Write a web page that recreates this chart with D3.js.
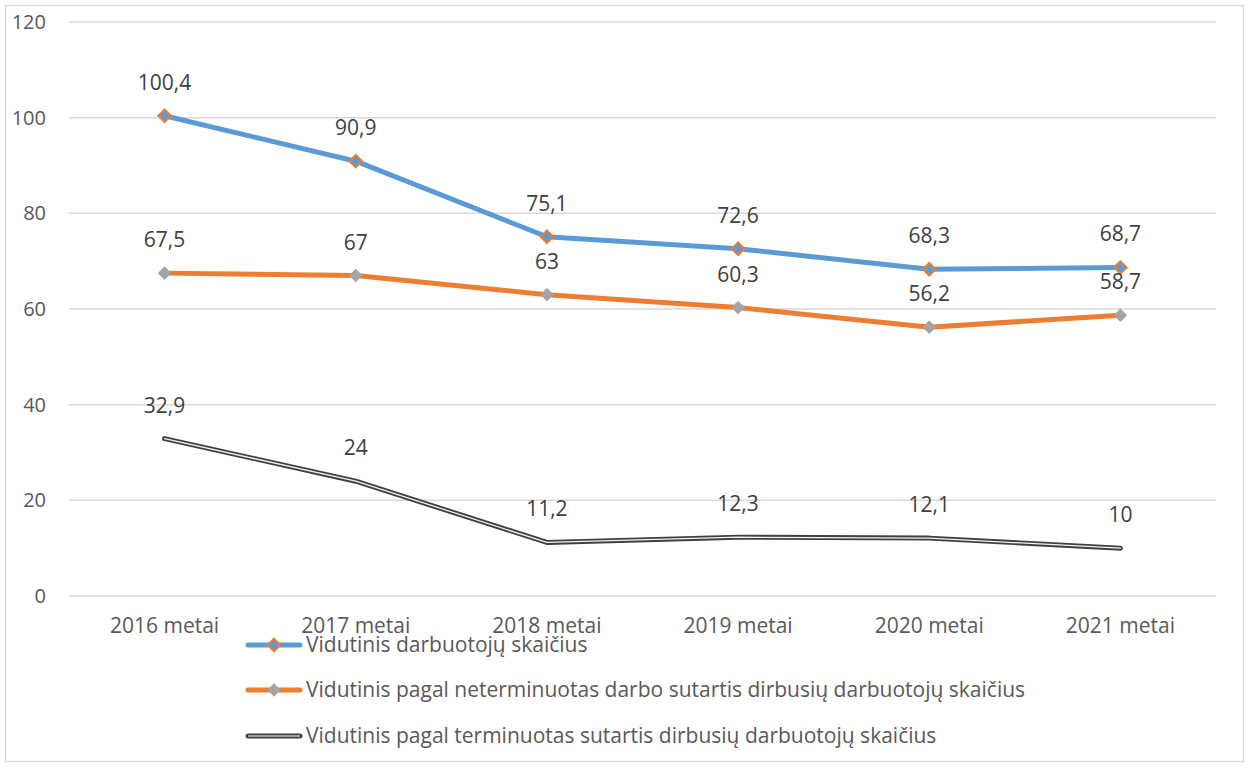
<!DOCTYPE html>
<html>
<head>
<meta charset="utf-8">
<script src="https://cdn.jsdelivr.net/npm/d3@7"></script>
<style>
  body { margin: 0; background: #fff; }
  svg text { font-family: "Open Sans", sans-serif; }
</style>
</head>
<body>
<div id="chart"></div>
<script>
'use strict';
var categories = ['2016 metai', '2017 metai', '2018 metai', '2019 metai', '2020 metai', '2021 metai'];
var totalValues = [100.4, 90.9, 75.1, 72.6, 68.3, 68.7];
var permanentValues = [67.5, 67, 63, 60.3, 56.2, 58.7];
var fixedTermValues = [32.9, 24, 11.2, 12.3, 12.1, 10];
var yTicks = [0, 20, 40, 60, 80, 100, 120];
var seriesNames = [
    'Vidutinis darbuotojų skaičius',
    'Vidutinis pagal neterminuotas darbo sutartis dirbusių darbuotojų skaičius',
    'Vidutinis pagal terminuotas sutartis dirbusių darbuotojų skaičius'
];

var width = 1249, height = 767;
var margin = {top: 22, right: 33, bottom: 171, left: 69};

var svg = d3.select('#chart').append('svg')
    .attr('width', width)
    .attr('height', height);

// chart frame
svg.append('rect')
    .attr('x', 5.5).attr('y', 5.5)
    .attr('width', 1238).attr('height', 756)
    .attr('fill', '#fff')
    .attr('stroke', '#d9d9d9')
    .attr('stroke-width', 1.3);

var xScale = d3.scaleBand()
    .domain(categories)
    .range([margin.left, width - margin.right]);
var yScale = d3.scaleLinear()
    .domain([0, 120])
    .range([height - margin.bottom, margin.top]);

function xPos(i) {
    return xScale(categories[i]) + xScale.bandwidth() / 2;
}

// gridlines
svg.append('g')
    .selectAll('line')
    .data(yTicks)
    .enter()
    .append('line')
    .attr('x1', margin.left)
    .attr('x2', width - margin.right)
    .attr('y1', function(d) { return yScale(d); })
    .attr('y2', function(d) { return yScale(d); })
    .attr('stroke', '#d9d9d9')
    .attr('stroke-width', 1.5);

// y axis labels
var yAxis = d3.axisLeft(yScale).tickValues(yTicks).tickSize(0).tickPadding(0);
var yAxisG = svg.append('g')
    .attr('transform', 'translate(46,0)')
    .call(yAxis);
yAxisG.select('.domain').remove();
yAxisG.selectAll('text')
    .attr('fill', '#595959')
    .style('font-size', '20px')
    .style('font-family', '"Open Sans", sans-serif');

// x axis labels
var xAxis = d3.axisBottom(xScale).tickSize(0).tickPadding(0);
var xAxisG = svg.append('g')
    .attr('transform', 'translate(0,' + (yScale(0) + 22) + ')')
    .call(xAxis);
xAxisG.select('.domain').remove();
xAxisG.selectAll('text')
    .attr('fill', '#595959')
    .style('font-size', '21px')
    .style('font-family', '"Open Sans", sans-serif');

var line = d3.line()
    .x(function(d, i) { return xPos(i); })
    .y(function(d) { return yScale(d); });

var diamond = d3.symbol().type(d3.symbolDiamond2).size(100);

// fixed-term series: double line
svg.append('path')
    .datum(fixedTermValues)
    .attr('d', line)
    .attr('fill', 'none')
    .attr('stroke', '#404040')
    .attr('stroke-width', 5)
    .attr('stroke-linejoin', 'round')
    .attr('stroke-linecap', 'round');
svg.append('path')
    .datum(fixedTermValues)
    .attr('d', line)
    .attr('fill', 'none')
    .attr('stroke', '#f2f2f2')
    .attr('stroke-width', 1.3)
    .attr('stroke-linejoin', 'round')
    .attr('stroke-linecap', 'round');

// permanent series
svg.append('path')
    .datum(permanentValues)
    .attr('d', line)
    .attr('fill', 'none')
    .attr('stroke', '#ed7d31')
    .attr('stroke-width', 5)
    .attr('stroke-linejoin', 'round')
    .attr('stroke-linecap', 'round');
svg.append('g')
    .selectAll('path')
    .data(permanentValues)
    .enter()
    .append('path')
    .attr('d', diamond)
    .attr('transform', function(d, i) { return 'translate(' + xPos(i) + ',' + yScale(d) + ')'; })
    .attr('fill', '#a5a5a5')
    .attr('stroke', '#a5a5a5')
    .attr('stroke-width', 1);

// total series
svg.append('path')
    .datum(totalValues)
    .attr('d', line)
    .attr('fill', 'none')
    .attr('stroke', '#5b9bd5')
    .attr('stroke-width', 5)
    .attr('stroke-linejoin', 'round')
    .attr('stroke-linecap', 'round');
svg.append('g')
    .selectAll('path')
    .data(totalValues)
    .enter()
    .append('path')
    .attr('d', diamond)
    .attr('transform', function(d, i) { return 'translate(' + xPos(i) + ',' + yScale(d) + ')'; })
    .attr('fill', '#5b9bd5')
    .attr('stroke', '#ed7d31')
    .attr('stroke-width', 2);

// data labels
function fmt(v) { return String(v).replace('.', ','); }
[totalValues, permanentValues, fixedTermValues].forEach(function(values) {
    svg.append('g')
        .selectAll('text')
        .data(values)
        .enter()
        .append('text')
        .attr('x', function(d, i) { return xPos(i); })
        .attr('y', function(d) { return yScale(d) - 26; })
        .attr('text-anchor', 'middle')
        .attr('fill', '#404040')
        .style('font-size', '21px')
        .text(fmt);
});

// legend
var legendY = [645, 690, 736];
var legend = svg.append('g');
seriesNames.forEach(function(name, i) {
    var g = legend.append('g').attr('transform', 'translate(0,' + legendY[i] + ')');
    if (i === 2) {
        g.append('line').attr('x1', 248).attr('x2', 300)
            .attr('stroke', '#404040').attr('stroke-width', 5).attr('stroke-linecap', 'round');
        g.append('line').attr('x1', 248).attr('x2', 300)
            .attr('stroke', '#bfbfbf').attr('stroke-width', 1.5);
    } else {
        g.append('line').attr('x1', 248).attr('x2', 300)
            .attr('stroke', i === 0 ? '#5b9bd5' : '#ed7d31')
            .attr('stroke-width', 5).attr('stroke-linecap', 'round');
        g.append('path')
            .attr('d', diamond)
            .attr('transform', 'translate(274,0)')
            .attr('fill', i === 0 ? '#5b9bd5' : '#a5a5a5')
            .attr('stroke', i === 0 ? '#ed7d31' : '#a5a5a5')
            .attr('stroke-width', i === 0 ? 2 : 1);
    }
    g.append('text')
        .attr('x', 306)
        .attr('dy', '0.35em')
        .attr('fill', '#595959')
        .style('font-size', '21px')
        .text(name);
});
</script>
</body>
</html>
